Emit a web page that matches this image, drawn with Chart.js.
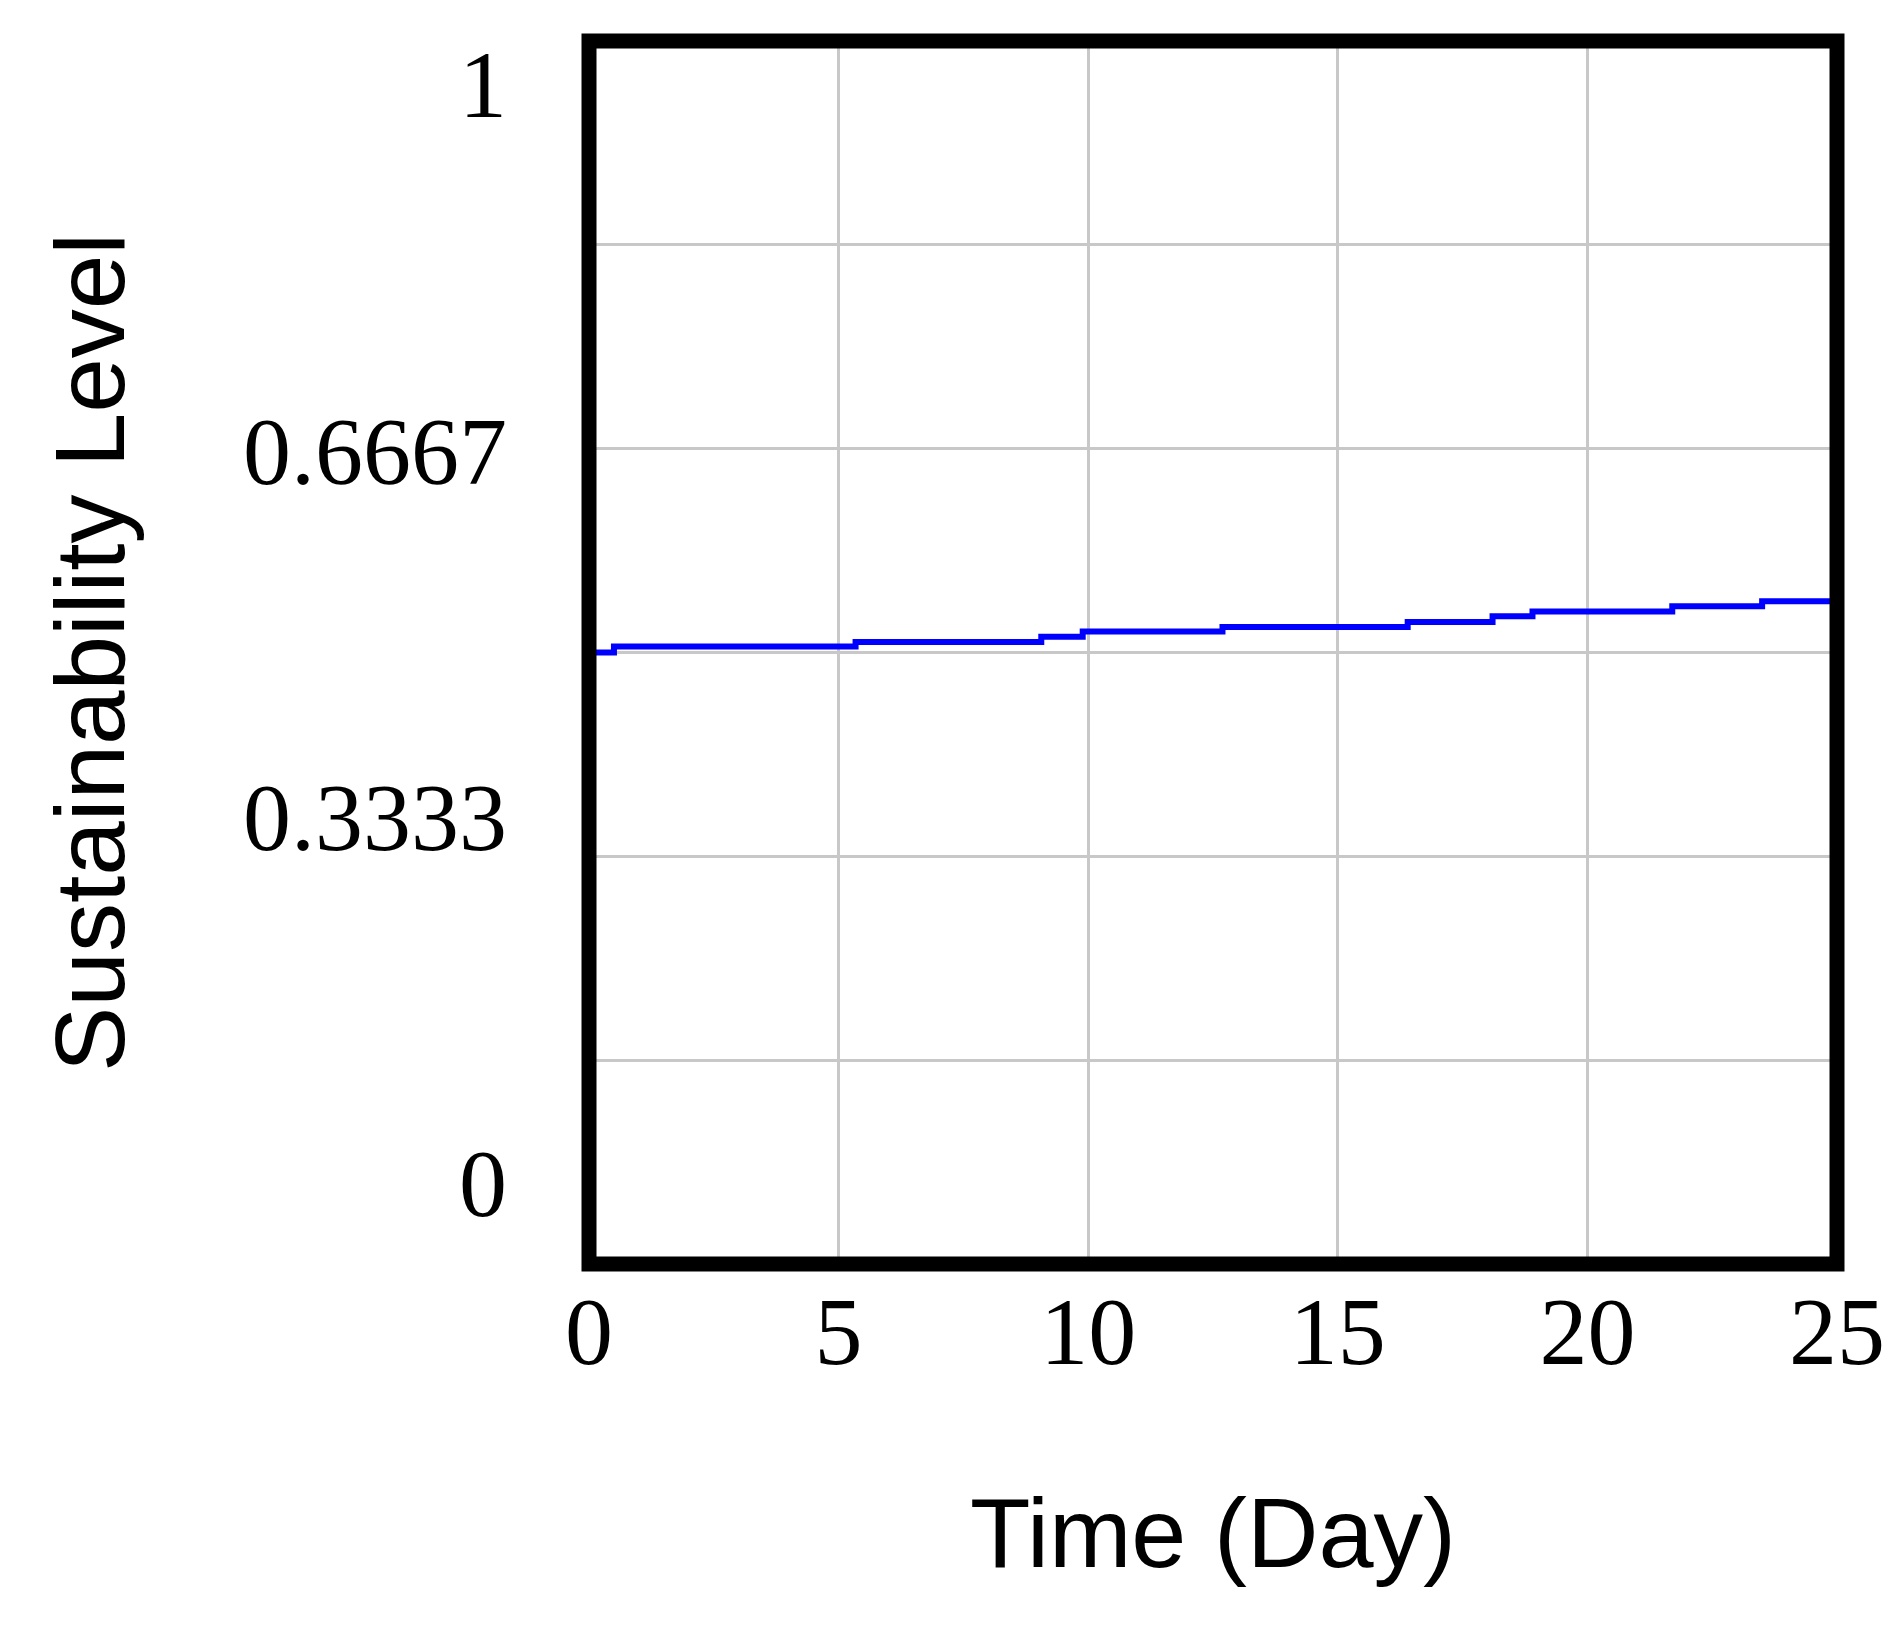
<!DOCTYPE html>
<html>
<head>
<meta charset="utf-8">
<script src="https://cdn.jsdelivr.net/npm/chart.js@4.4.1/dist/chart.umd.min.js"></script>
<style>
  html, body { margin: 0; padding: 0; background: #ffffff; }
  #wrap { width: 1903px; height: 1631px; }
</style>
</head>
<body>
<div id="wrap"><canvas id="c" width="1903" height="1631"></canvas></div>
<script>
// ---- data ----
const times  = [0, 0.5, 5.34, 9.06, 9.89, 12.69, 16.4, 18.1, 18.9, 21.7, 23.5, 25];
const levels = [0.5000, 0.5049, 0.5086, 0.5129, 0.5172, 0.5208, 0.5249, 0.5296, 0.5335, 0.5378, 0.5419, 0.5419];

const xTickValues = [0, 5, 10, 15, 20, 25];
const xTickLabels = ['0', '5', '10', '15', '20', '25'];

const yGridValues = [0, 1/6, 2/6, 3/6, 4/6, 5/6, 1];
const yTickValues = [0, 1/3, 2/3, 1];
const yTickLabels = ['0', '0.3333', '0.6667', '1'];

const xTitle = 'Time (Day)';
const yTitle = 'Sustainability Level';
const seriesName = 'Sustainability Level';

// ---- chart ----
const points = times.map((t, i) => ({ x: t, y: levels[i] }));

const framePlugin = {
  id: 'frame',
  afterDatasetsDraw(chart) {
    const { ctx, chartArea: a } = chart;
    ctx.save();
    ctx.lineWidth = 15;
    ctx.strokeStyle = '#000000';
    ctx.lineJoin = 'miter';
    ctx.strokeRect(a.left, a.top, a.right - a.left, a.bottom - a.top);
    ctx.restore();
  }
};

new Chart(document.getElementById('c'), {
  type: 'line',
  data: {
    datasets: [{
      label: seriesName,
      data: points,
      borderColor: '#0000ff',
      borderWidth: 6,
      pointRadius: 0,
      stepped: 'before',
      tension: 0,
      fill: false
    }]
  },
  options: {
    responsive: false,
    animation: false,
    events: [],
    layout: { padding: { top: 41, right: 66, bottom: 0, left: 0 } },
    plugins: { legend: { display: false }, tooltip: { enabled: false } },
    scales: {
      x: {
        type: 'linear',
        position: 'bottom',
        min: 0, max: 25,
        afterBuildTicks: s => { s.ticks = xTickValues.map(v => ({ value: v })); },
        afterFit: s => { s.height = 367; s.paddingLeft = 0; s.paddingRight = 0; },
        grid: { color: '#c8c8c8', lineWidth: 3, drawTicks: false },
        border: { display: false },
        ticks: {
          autoSkip: false,
          maxRotation: 0,
          padding: 17,
          color: '#000000',
          font: { family: '"Liberation Serif", "Times New Roman", serif', size: 96 },
          callback: (v, i) => xTickLabels[i]
        },
        title: {
          display: true,
          text: xTitle,
          color: '#000000',
          padding: { top: 0, bottom: 32 },
          font: { family: '"Liberation Sans", Arial, sans-serif', size: 99 }
        }
      },
      y: {
        type: 'linear',
        position: 'left',
        weight: 0,
        min: 0, max: 1,
        afterBuildTicks: s => { s.ticks = yGridValues.map(v => ({ value: v })); },
        afterFit: s => { s.width = 0; s.paddingTop = 0; s.paddingBottom = 0; },
        grid: { color: '#c8c8c8', lineWidth: 3, drawTicks: false },
        border: { display: false },
        ticks: { display: false }
      },
      yl: {
        type: 'linear',
        position: 'left',
        weight: 1,
        min: -0.0664, max: 1.0464,
        afterBuildTicks: s => { s.ticks = yTickValues.map(v => ({ value: v })); },
        afterFit: s => { s.width = 589; s.paddingTop = 0; s.paddingBottom = 0; },
        grid: { display: false, drawTicks: false },
        border: { display: false },
        ticks: {
          autoSkip: false,
          padding: 82,
          color: '#000000',
          font: { family: '"Liberation Serif", "Times New Roman", serif', size: 96 },
          callback: (v, i) => yTickLabels[i]
        },
        title: {
          display: true,
          text: yTitle,
          color: '#000000',
          padding: { top: 38, bottom: 0 },
          font: { family: '"Liberation Sans", Arial, sans-serif', size: 98 }
        }
      }
    }
  },
  plugins: [framePlugin]
});
</script>
</body>
</html>
